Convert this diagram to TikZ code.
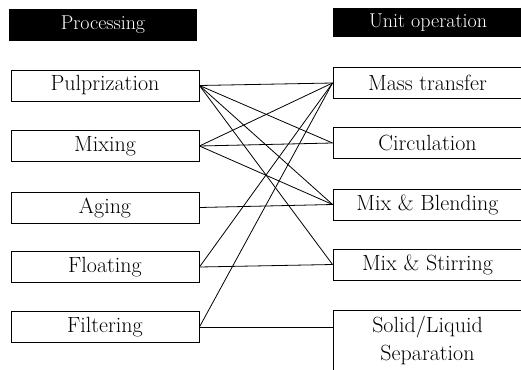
\documentclass[tikz,border=0pt]{standalone}
\usepackage{fontspec}
\setmainfont{Latin Modern Roman}
\begin{document}
\begin{tikzpicture}[x=1pt,y=-1pt,
  box/.style={draw=black, line width=0.9pt, fill=white, minimum height=31pt, inner sep=0pt, font=\fontsize{22}{28}\selectfont},
  lbox/.style={box, minimum width=188pt},
  rbox/.style={box, minimum width=189pt},
  head/.style={fill=black, text=white, inner sep=0pt, font=\fontsize{20}{24}\selectfont},
  link/.style={line width=0.8pt}]
\useasboundingbox (0,0) rectangle (521,369);
% headers
\node[head, minimum width=188pt, minimum height=32pt] (hp) at (103,25) {Processing};
\node[head, minimum width=190pt, minimum height=29pt] (hu) at (428,22.5) {Unit operation};
% left
\node[lbox] (pu) at (105,85.5) {Pulprization};
\node[lbox] (mi) at (105,146) {Mixing};
\node[lbox] (ag) at (105,207.5) {Aging};
\node[lbox] (fl) at (105,267) {Floating};
\node[lbox] (fi) at (105,327) {Filtering};
% right
\node[rbox] (mt) at (427.5,83) {Mass transfer};
\node[rbox] (ci) at (427.5,143) {Circulation};
\node[rbox] (mb) at (427.5,204.5) {Mix \& Blending};
\node[rbox] (ms) at (427.5,264.5) {Mix \& Stirring};
\node[rbox, minimum height=60pt, align=center] (sl) at (427.5,340) {Solid/Liquid\\Separation};
% links
\draw[link] (pu.east) -- (mt.west);
\draw[link] (pu.east) -- (ci.west);
\draw[link] (pu.east) -- (mb.west);
\draw[link] (pu.east) -- (ms.west);
\draw[link] (mi.east) -- (mt.west);
\draw[link] (mi.east) -- (ci.west);
\draw[link] (mi.east) -- (mb.west);
\draw[link] (ag.east) -- (mb.west);
\draw[link] (fl.east) -- (mt.west);
\draw[link] (fl.east) -- (ms.west);
\draw[link] (fi.east) -- (mt.west);
\draw[link] (fi.east) -- (fi.east -| sl.west);
\end{tikzpicture}
\end{document}
